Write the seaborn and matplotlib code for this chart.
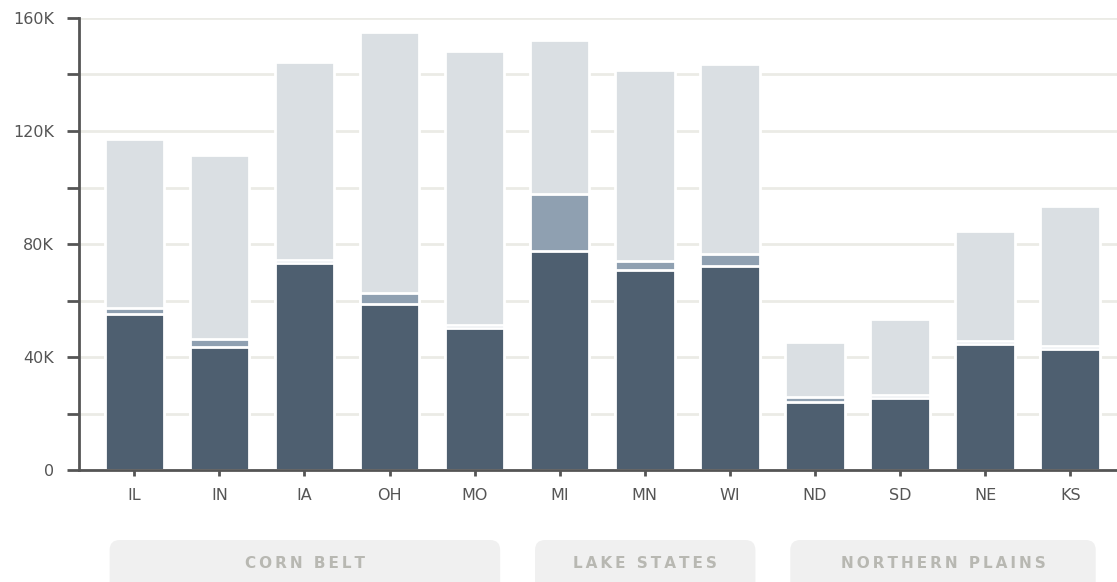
import matplotlib
matplotlib.use("Agg")
import matplotlib.pyplot as plt
from matplotlib.patches import FancyBboxPatch
from matplotlib.ticker import MultipleLocator, FuncFormatter
import pandas as pd
import seaborn as sns

# values in thousands
states = ["IL", "IN", "IA", "OH", "MO", "MI", "MN", "WI", "ND", "SD", "NE", "KS"]
dark = [55.3, 43.7, 73.3, 58.8, 50.2, 77.6, 70.7, 72.3, 23.9, 25.5, 44.6, 42.9]
medium = [2.2, 2.5, 1.0, 3.9, 1.2, 20.0, 3.4, 4.2, 2.1, 1.1, 1.2, 1.1]
light = [59.7, 65.3, 70.1, 92.3, 96.8, 54.6, 67.5, 67.2, 19.3, 26.8, 38.8, 49.5]

groups = ["CORN BELT", "LAKE STATES", "NORTHERN PLAINS"]
group_members = [["IL", "IN", "IA", "OH", "MO"], ["MI", "MN", "WI"], ["ND", "SD", "NE", "KS"]]

DARK = "#4e5f70"
MID = "#8fa0b1"
LIGHT = "#dadfe3"
GRID = "#ebebe6"
AXIS = "#555555"

df = pd.DataFrame({"state": states, "dark": dark, "medium": medium, "light": light})
df["top_dark"] = df["dark"] * 1000
df["top_mid"] = (df["dark"] + df["medium"]) * 1000
df["top_all"] = (df["dark"] + df["medium"] + df["light"]) * 1000

sns.set_theme(style="white")
plt.rcParams["font.family"] = ["DejaVu Sans"]

fig = plt.figure(figsize=(11.17, 5.82), dpi=100)
ax = fig.add_axes([79 / 1117, 1 - 470 / 582, 1 - 79 / 1117, (470 - 18) / 582])

bar_kw = dict(width=0.7, edgecolor="white", linewidth=2, saturation=1, ax=ax)
sns.barplot(data=df, x="state", y="top_all", color=LIGHT, **bar_kw)
sns.barplot(data=df, x="state", y="top_mid", color=MID, **bar_kw)
sns.barplot(data=df, x="state", y="top_dark", color=DARK, **bar_kw)

ax.set_xlim(-0.65, len(states) - 1 + 0.55)
ax.set_ylim(0, 160000)
ax.set_xlabel("")
ax.set_ylabel("")

ax.yaxis.set_major_locator(MultipleLocator(40000))
ax.yaxis.set_minor_locator(MultipleLocator(20000))
ax.yaxis.set_major_formatter(FuncFormatter(lambda v, p: "0" if v == 0 else f"{int(v / 1000)}K"))
ax.set_axisbelow(True)
ax.grid(axis="y", which="both", color=GRID, linewidth=2)
ax.grid(axis="x", visible=False)

for side in ["top", "right"]:
    ax.spines[side].set_visible(False)
for side in ["left", "bottom"]:
    ax.spines[side].set_color(AXIS)
    ax.spines[side].set_linewidth(2)

ax.tick_params(axis="y", which="both", length=9, width=2, color=AXIS, labelcolor=AXIS,
               labelsize=11.5, pad=9, left=True)
ax.tick_params(axis="x", length=4, width=2, color=AXIS, labelcolor=AXIS,
               labelsize=11.5, pad=9, bottom=True)

# group boxes under the axis, placed in pixel coords
for name, members in zip(groups, group_members):
    i0 = states.index(members[0])
    i1 = states.index(members[-1])
    x0 = ax.transData.transform((i0 - 0.29, 0))[0]
    x1 = ax.transData.transform((i1 + 0.3, 0))[0]
    box = FancyBboxPatch((x0, -20), x1 - x0, 62, boxstyle="round,pad=0,rounding_size=10",
                         transform=None, facecolor="#f0f0f0", edgecolor="none", clip_on=False)
    fig.patches.append(box)
    spaced = "\u2009".join(name)
    fig.text((x0 + x1) / 2 / fig.bbox.width, 18 / 582, spaced, ha="center", va="center",
             fontsize=11, fontweight="bold", color="#b8b8b2")

fig.savefig("out.png", dpi=100)
